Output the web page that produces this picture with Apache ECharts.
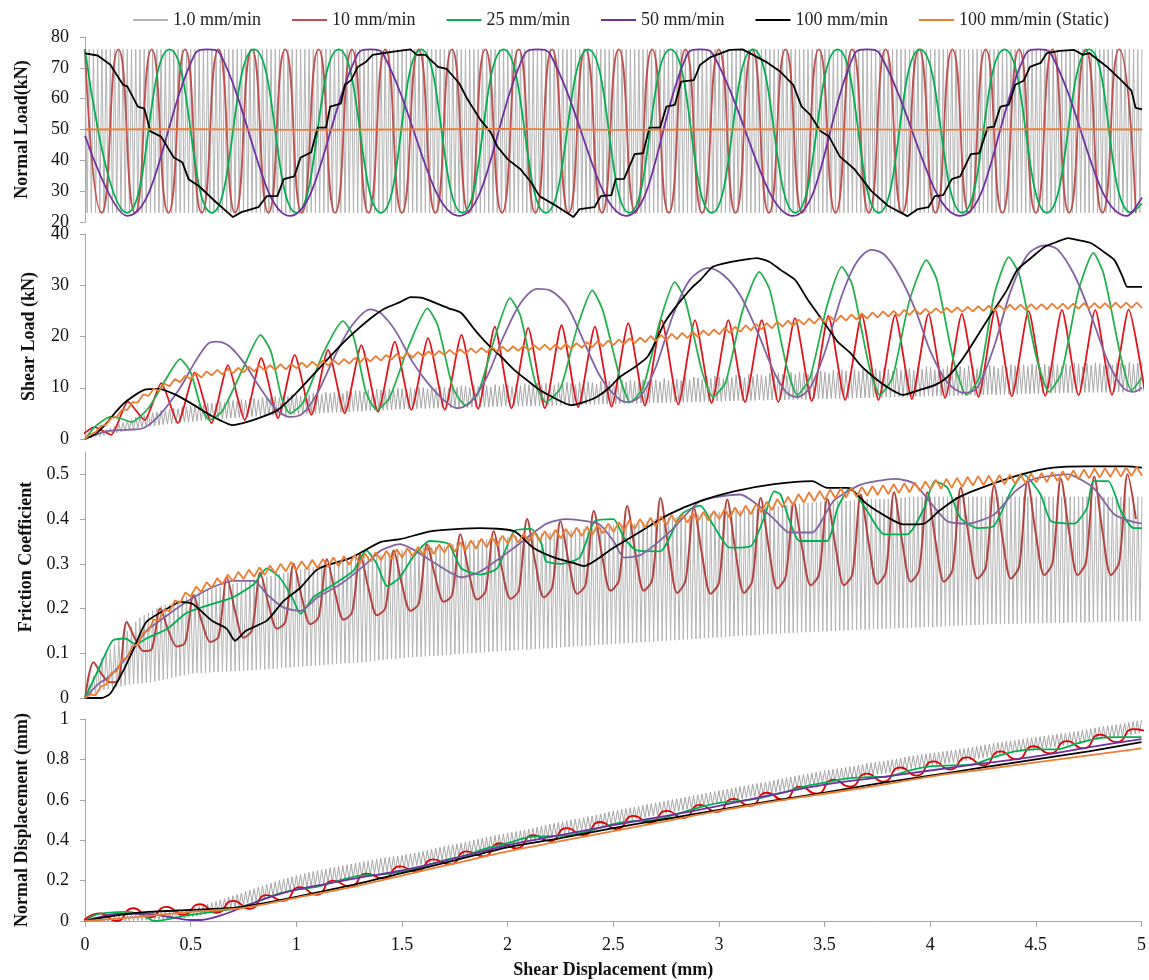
<!DOCTYPE html>
<html><head><meta charset="utf-8">
<script src="https://cdn.jsdelivr.net/npm/echarts/dist/echarts.min.js"></script>
<style>html,body{margin:0;padding:0;background:#fff}#chart{width:1149px;height:980px}</style>
</head><body><div id="chart"></div>
<script>
// ---------- names / axes ----------
const NAMES = ['1.0 mm/min','10 mm/min','25 mm/min','50 mm/min','100 mm/min','100 mm/min (Static)'];
const X_NAME = 'Shear Displacement (mm)';
const Y_NAMES = ['Normal Load(kN)','Shear Load (kN)','Friction Coefficient','Normal Displacement (mm)'];
const Y_RANGES = [[20,80,10],[0,40,10],[0,0.55,0.1],[0,1,0.2]];
const X_RANGE = [0,5,0.5];

// sampling grids (mm) for regularly sampled series
const GRAY_X0 = 0, GRAY_STEP = 0.01;        // 1.0 mm/min: peak/trough every 0.01 mm
const RED_HALF = 0.0789;                     // 10 mm/min: half load cycle
const RED1_X0 = 0, RED2_X0 = -0.0339, RED4_X0 = -0.0089;
const RED3_X0 = 0.0006, RED3_STEP = 0.03945; // quarter cycle
const ORANGE_X0 = 0, ORANGE_STEP = 0.025;

// ---------- Panel 1: Normal Load (kN) ----------
const grayNL = [
76,23,76,23,76,23,76,23,76,23,76,23,76,23,76,23,76,23,76,23,
76,23,76,23,76,23,76,23,76,23,76,23,76,23,76,23,76,23,76,23,
76,23,76,23,76,23,76,23,76,23,76,23,76,23,76,23,76,23,76,23,
76,23,76,23,76,23,76,23,76,23,76,23,76,23,76,23,76,23,76,23,
76,23,76,23,76,23,76,23,76,23,76,23,76,23,76,23,76,23,76,23,
76,23,76,23,76,23,76,23,76,23,76,23,76,23,76,23,76,23,76,23,
76,23,76,23,76,23,76,23,76,23,76,23,76,23,76,23,76,23,76,23,
76,23,76,23,76,23,76,23,76,23,76,23,76,23,76,23,76,23,76,23,
76,23,76,23,76,23,76,23,76,23,76,23,76,23,76,23,76,23,76,23,
76,23,76,23,76,23,76,23,76,23,76,23,76,23,76,23,76,23,76,23,
76,23,76,23,76,23,76,23,76,23,76,23,76,23,76,23,76,23,76,23,
76,23,76,23,76,23,76,23,76,23,76,23,76,23,76,23,76,23,76,23,
76,23,76,23,76,23,76,23,76,23,76,23,76,23,76,23,76,23,76,23,
76,23,76,23,76,23,76,23,76,23,76,23,76,23,76,23,76,23,76,23,
76,23,76,23,76,23,76,23,76,23,76,23,76,23,76,23,76,23,76,23,
76,23,76,23,76,23,76,23,76,23,76,23,76,23,76,23,76,23,76,23,
76,23,76,23,76,23,76,23,76,23,76,23,76,23,76,23,76,23,76,23,
76,23,76,23,76,23,76,23,76,23,76,23,76,23,76,23,76,23,76,23,
76,23,76,23,76,23,76,23,76,23,76,23,76,23,76,23,76,23,76,23,
76,23,76,23,76,23,76,23,76,23,76,23,76,23,76,23,76,23,76,23,
76,23,76,23,76,23,76,23,76,23,76,23,76,23,76,23,76,23,76,23,
76,23,76,23,76,23,76,23,76,23,76,23,76,23,76,23,76,23,76,23,
76,23,76,23,76,23,76,23,76,23,76,23,76,23,76,23,76,23,76,23,
76,23,76,23,76,23,76,23,76,23,76,23,76,23,76,23,76,23,76,23,
76,23,76,23,76,23,76,23,76,23,76,23,76,23,76,23,76,23,76,23,
76];
const redNL = [
76,23,76,23,76,23,76,23,76,23,76,23,76,23,76,23,
76,23,76,23,76,23,76,23,76,23,76,23,76,23,76,23,
76,23,76,23,76,23,76,23,76,23,76,23,76,23,76,23,
76,23,76,23,76,23,76,23,76,23,76,23,76,23,76,23];
const greenNL = [[0,76],[0.2,23],[0.4,76],[0.6,23],[0.8,76],[1.0,23],[1.2,76],[1.4,23],[1.59,76],[1.785,23],[1.98,76],[2.18,23],[2.38,76],[2.575,23],[2.77,76],[2.965,23],[3.16,76],[3.36,23],[3.56,76],[3.755,23],[3.95,76],[4.15,23],[4.35,76],[4.55,23],[4.75,76],[4.95,23],[5.0,26]];
const purpleNL = [[0,48],[0.2,22],[0.52,74.5],[0.58,76],[0.64,74.5],[0.97,22],[1.29,74.5],[1.35,76],[1.41,74.5],[1.77,22],[2.08,74.5],[2.14,76],[2.2,74.5],[2.56,22],[2.85,74.5],[2.91,76],[2.97,74.5],[3.35,22],[3.64,74.5],[3.7,76],[3.76,74.5],[4.14,22],[4.45,74.5],[4.51,76],[4.57,74.5],[4.93,22],[5.0,28]];
const blackNL = [[0,74.7],[0.06,74],[0.12,71],[0.14,68.8],[0.18,64.5],[0.2,64],[0.25,57.4],[0.28,56.8],[0.31,49.4],[0.36,47.7],[0.42,40.9],[0.46,39.4],[0.49,33.9],[0.54,31.6],[0.62,26.4],[0.7,21.6],[0.74,23.2],[0.82,24.8],[0.86,28.4],[0.91,28.4],[0.94,33.9],[0.99,34.8],[1.02,40.9],[1.07,42.6],[1.1,50.6],[1.14,50.6],[1.16,57.4],[1.21,58.4],[1.23,64.5],[1.26,66.1],[1.29,70.3],[1.33,72],[1.36,74.2],[1.45,75.2],[1.54,76],[1.57,74.2],[1.61,74.2],[1.67,70.3],[1.71,69.7],[1.77,65],[1.81,59.7],[1.87,53.2],[1.92,49],[1.95,44.5],[2.0,40.3],[2.06,37.1],[2.11,32.9],[2.15,28.4],[2.23,25.2],[2.31,21.6],[2.34,24.2],[2.41,24.8],[2.44,28.4],[2.49,28.7],[2.51,33.9],[2.55,34],[2.6,42],[2.64,42.3],[2.67,50.6],[2.72,50.6],[2.75,57.4],[2.79,58],[2.82,65.5],[2.88,66],[2.91,71],[2.96,73.5],[3.05,75.8],[3.11,76],[3.16,74.2],[3.23,71.6],[3.29,68.7],[3.35,64.5],[3.39,57.4],[3.43,54.8],[3.48,49.4],[3.52,47.7],[3.57,41.3],[3.64,37.1],[3.72,30],[3.8,25.2],[3.89,21.9],[3.94,24.2],[3.99,24.8],[4.02,28.4],[4.06,28.7],[4.1,33.9],[4.14,34.8],[4.19,42],[4.23,42.3],[4.27,50.6],[4.3,50.9],[4.33,57.4],[4.37,58],[4.4,64.5],[4.44,65.8],[4.47,70.3],[4.52,71.6],[4.55,74.8],[4.61,75.5],[4.68,75.8],[4.72,74.2],[4.75,74.8],[4.84,70],[4.9,66.1],[4.95,62.6],[4.97,57],[5.0,56.5]];
const orangeNL = [[0,50],[0.5,50.1],[1,49.9],[1.5,50],[2,50.2],[2.5,49.9],[3,50],[3.5,50.1],[4,49.9],[4.5,50.1],[5,50]];

// ---------- Panel 2: Shear Load (kN) ----------
const graySL = [
0,0.1,0.5,0.2,0.9,0.4,1.2,0.5,1.5,0.7,
1.8,0.8,2.1,1.0,2.5,1.2,2.9,1.4,3.2,1.6,
3.6,1.8,3.8,2.0,4.2,2.1,4.4,2.3,4.6,2.4,
4.8,2.5,5.1,2.6,5.3,2.7,5.6,2.8,5.5,2.9,
5.8,3.0,6.0,3.1,5.9,3.2,6.3,3.3,6.2,3.3,
6.5,3.4,6.4,3.5,6.8,3.6,6.6,3.7,7.0,3.7,
7.0,3.8,6.9,3.9,7.3,4.0,7.1,4.0,7.5,4.1,
7.5,4.1,7.3,4.2,7.7,4.3,7.6,4.3,7.9,4.4,
7.9,4.4,7.7,4.5,8.1,4.5,8.0,4.6,8.3,4.6,
8.3,4.6,8.1,4.7,8.5,4.7,8.3,4.8,8.7,4.8,
8.6,4.8,8.4,4.9,8.8,4.9,8.6,5.0,9.0,5.0,
8.9,5.0,8.7,5.1,9.1,5.1,8.9,5.2,9.2,5.2,
9.1,5.2,8.9,5.3,9.4,5.3,9.2,5.4,9.5,5.4,
9.4,5.4,9.2,5.5,9.6,5.5,9.4,5.6,9.7,5.6,
9.6,5.6,9.4,5.7,9.8,5.7,9.6,5.8,9.9,5.8,
9.8,5.8,9.6,5.9,10.0,5.9,9.8,5.9,10.1,6.0,
10.0,5.9,9.8,6.0,10.2,6.0,9.9,6.0,10.3,6.1,
10.1,6.0,9.9,6.1,10.3,6.1,10.1,6.1,10.4,6.2,
10.3,6.1,10.0,6.2,10.5,6.2,10.2,6.2,10.5,6.3,
10.4,6.2,10.1,6.3,10.6,6.3,10.3,6.3,10.7,6.4,
10.5,6.3,10.2,6.4,10.7,6.4,10.4,6.4,10.8,6.5,
10.6,6.4,10.3,6.5,10.9,6.5,10.5,6.5,10.9,6.6,
10.8,6.5,10.5,6.6,11.0,6.6,10.7,6.6,11.1,6.7,
10.9,6.6,10.6,6.7,11.1,6.7,10.8,6.7,11.2,6.8,
11.0,6.7,10.7,6.8,11.3,6.8,10.9,6.8,11.3,6.9,
11.2,6.8,10.9,6.9,11.4,6.9,11.1,6.9,11.5,7.0,
11.3,6.9,11.0,7.0,11.6,7.0,11.2,7.0,11.7,7.1,
11.5,7.0,11.2,7.1,11.8,7.1,11.4,7.1,11.9,7.2,
11.7,7.1,11.4,7.2,12.0,7.2,11.6,7.2,12.1,7.3,
11.9,7.2,11.6,7.3,12.2,7.3,11.8,7.3,12.3,7.4,
12.1,7.3,11.8,7.4,12.4,7.4,12.0,7.4,12.5,7.5,
12.3,7.4,12.0,7.5,12.6,7.5,12.2,7.5,12.7,7.6,
12.5,7.5,12.2,7.6,12.8,7.6,12.4,7.6,12.9,7.7,
12.7,7.6,12.4,7.7,13.0,7.7,12.6,7.7,13.1,7.8,
12.9,7.7,12.6,7.8,13.2,7.8,12.8,7.8,13.3,7.9,
13.1,7.8,12.8,7.9,13.4,7.9,13.0,7.9,13.5,8.0,
13.3,7.9,13.0,8.0,13.6,8.0,13.2,8.0,13.7,8.1,
13.5,8.0,13.1,8.1,13.7,8.1,13.3,8.1,13.8,8.2,
13.6,8.1,13.2,8.2,13.9,8.2,13.4,8.2,14.0,8.3,
13.8,8.2,13.4,8.3,14.0,8.3,13.6,8.3,14.1,8.4,
13.9,8.3,13.5,8.4,14.1,8.4,13.7,8.4,14.2,8.5,
14.0,8.4,13.6,8.5,14.2,8.5,13.8,8.5,14.3,8.6,
14.1,8.5,13.7,8.6,14.3,8.6,13.9,8.6,14.4,8.7,
14.2,8.6,13.8,8.7,14.4,8.7,14.0,8.7,14.5,8.8,
14.3,8.7,13.9,8.8,14.5,8.8,14.1,8.8,14.6,8.9,
14.4,8.8,14.0,8.9,14.6,8.9,14.2,8.9,14.7,9.0,
14.5,8.9,14.1,9.0,14.7,9.0,14.3,9.0,14.8,9.1,
14.6,9.0,14.2,9.1,14.8,9.1,14.4,9.1,14.9,9.1,
14.7,9.1,14.3,9.1,14.9,9.2,14.5,9.2,14.9,9.2,
14.8,9.1,14.4,9.2,14.9,9.2,14.6,9.2,14.8,9.2,
14.8];
const redSL = [0,2.3,0.8,7.3,3.7,10.9,3.1,13.0,3.1,14.4,3.7,15.8,4.1,16.4,4.7,17.4,5.0,18.3,5.3,19.0,5.7,19.7,5.7,20.3,5.9,21.9,6.0,21.7,6.0,22.2,6.2,21.9,6.3,22.6,6.5,23.2,6.7,23.2,7.0,23.2,7.2,23.2,7.2,23.6,7.4,24.0,7.6,24.2,7.6,24.2,7.8,24.4,8.0,24.4,8.2,25.2,8.3,25.0,8.4,25.2,8.5,25.2,8.6,25.3,8.6];
const greenSL = [[0,0],[0.05,2.5],[0.12,4.3],[0.17,4.0],[0.22,3.3],[0.3,6],[0.38,11.5],[0.45,15.6],[0.5,13],[0.55,6],[0.59,3.7],[0.65,5.5],[0.75,14],[0.83,20.3],[0.88,17],[0.93,8],[0.97,5.0],[1.03,7],[1.13,17],[1.22,23.0],[1.27,20],[1.33,9],[1.38,5.7],[1.44,8],[1.53,18],[1.62,25.5],[1.67,22],[1.74,10],[1.8,6.6],[1.86,9],[1.94,20],[2.01,27.5],[2.06,24],[2.13,11],[2.18,7.2],[2.25,10],[2.33,22],[2.4,29.0],[2.45,25],[2.53,12],[2.58,7.2],[2.64,10],[2.72,23],[2.79,30.6],[2.84,27],[2.92,13],[2.97,8.2],[3.03,11],[3.11,25],[3.19,32.6],[3.24,29],[3.32,14],[3.37,8.6],[3.43,12],[3.51,26],[3.58,33.6],[3.63,30],[3.71,14],[3.76,8.6],[3.82,12],[3.9,27],[3.98,34.9],[4.03,31],[4.11,15],[4.17,8.6],[4.23,12],[4.3,28],[4.37,35.5],[4.42,32],[4.5,16],[4.56,9.2],[4.62,13],[4.7,29],[4.77,36.3],[4.82,32],[4.9,16],[4.95,9.5],[5.0,12]];
const purpleSL = [[0,0],[0.1,1.5],[0.2,1.8],[0.28,2.2],[0.36,5],[0.45,10],[0.52,15],[0.58,18.5],[0.62,19],[0.68,18.2],[0.75,15],[0.82,10.5],[0.9,6],[0.97,4.3],[1.03,5],[1.1,9],[1.18,16],[1.26,22],[1.35,25.3],[1.4,24.5],[1.47,21],[1.55,15],[1.62,11],[1.7,7.5],[1.76,6],[1.82,7],[1.9,12],[1.98,20],[2.06,26.5],[2.14,29.3],[2.2,29],[2.28,26],[2.36,19],[2.44,12],[2.52,8],[2.57,7.2],[2.63,8.5],[2.7,14],[2.78,24],[2.86,31],[2.95,33.4],[3.02,32],[3.1,28],[3.18,21],[3.26,13],[3.32,9],[3.37,8.2],[3.43,10],[3.5,17],[3.58,28],[3.65,34.5],[3.72,36.9],[3.78,36],[3.85,32],[3.93,25],[4.0,17],[4.08,11],[4.16,9.0],[4.22,10],[4.3,18],[4.38,29],[4.46,36],[4.54,37.8],[4.6,37],[4.68,32],[4.76,24],[4.84,15],[4.91,10],[4.96,9.2],[5.0,10]];
const blackSL = [[0,0],[0.05,1],[0.1,3],[0.15,5.5],[0.2,7.5],[0.28,9.6],[0.35,9.8],[0.42,8.8],[0.5,7],[0.6,4.5],[0.7,2.7],[0.78,3.5],[0.85,4.5],[0.91,5.6],[1.0,9],[1.09,13],[1.18,17],[1.26,20.3],[1.35,23.5],[1.42,25.5],[1.49,26.7],[1.54,27.7],[1.6,27.5],[1.66,26.5],[1.72,25.5],[1.78,24.6],[1.84,21.5],[1.9,18.7],[1.97,16],[2.03,13.5],[2.09,11.5],[2.15,9.6],[2.22,8],[2.3,6.6],[2.36,7.2],[2.42,8.2],[2.48,10],[2.53,12.1],[2.6,14],[2.66,16.0],[2.7,19],[2.74,22.6],[2.78,25],[2.82,27.1],[2.87,29.5],[2.91,31],[2.97,33.6],[3.05,34.5],[3.12,35],[3.18,35.3],[3.24,34.5],[3.29,33],[3.36,31],[3.42,27.1],[3.51,21.9],[3.56,19],[3.62,16.8],[3.67,14.3],[3.73,12.1],[3.8,10],[3.87,8.6],[3.95,9.6],[4.02,10.5],[4.08,12.1],[4.14,15],[4.2,18.7],[4.25,22],[4.3,25.2],[4.36,29],[4.41,33],[4.48,35.5],[4.54,37.5],[4.6,38.5],[4.65,39.2],[4.7,38.8],[4.76,38.2],[4.82,36.5],[4.87,34.9],[4.91,31.5],[4.93,29.7],[5.0,29.7]];
const orangeSL = [
0,0.9,1.3,2.5,2.8,4.1,4.3,5.7,5.7,7.2,7.1,8.7,8.4,9.8,9.4,10.8,10.3,11.7,11.1,12.4,
11.7,12.9,12.0,13.2,12.4,13.5,12.6,13.7,12.8,13.9,13.0,14.1,13.2,14.3,13.4,14.4,13.5,14.6,13.6,14.7,
13.8,14.9,14.0,15.1,14.2,15.3,14.3,15.4,14.5,15.6,14.7,15.8,14.9,16.0,15.1,16.2,15.3,16.4,15.5,16.6,
15.7,16.8,15.9,17.0,16.1,17.1,16.2,17.2,16.4,17.4,16.5,17.5,16.6,17.7,16.8,17.8,16.9,17.9,17.0,18.0,
17.1,18.1,17.2,18.2,17.3,18.3,17.4,18.4,17.4,18.4,17.5,18.6,17.6,18.7,17.8,18.9,17.9,19.1,18.1,19.2,
18.3,19.4,18.5,19.6,18.7,19.8,18.9,20.1,19.1,20.3,19.3,20.5,19.5,20.7,19.7,20.9,19.9,21.2,20.2,21.4,
20.4,21.7,20.7,21.9,20.9,22.2,21.2,22.4,21.4,22.6,21.6,22.9,21.9,23.1,22.1,23.3,22.3,23.5,22.5,23.7,
22.7,23.9,22.9,24.1,23.1,24.3,23.3,24.5,23.5,24.7,23.7,24.9,23.9,25.0,24.0,25.2,24.2,25.3,24.3,25.4,
24.5,25.5,24.6,25.6,24.7,25.7,24.8,25.8,24.9,25.9,25.0,26.0,25.0,26.1,25.1,26.2,25.2,26.2,25.2,26.3,
25.3,26.3,25.3,26.4,25.4,26.4,25.4,26.4,25.4,26.5,25.5,26.5,25.5,26.5,25.5,26.6,25.6,26.6,25.6,26.6,
25.6];

// ---------- Panel 3: Friction Coefficient ----------
const grayFC = [
0,0,.03,.005,.05,.01,.07,.015,.09,.018,
.10,.02,.11,.022,.12,.024,.13,.026,.14,.028,
.15,.03,.16,.031,.17,.032,.18,.033,.185,.034,
.19,.035,.195,.037,.2,.039,.205,.041,.208,.043,
.21,.045,.215,.047,.22,.049,.224,.051,.227,.053,
.23,.055,.233,.056,.236,.056,.24,.057,.243,.057,
.245,.058,.247,.058,.249,.059,.251,.059,.253,.06,
.255,.06,.257,.061,.259,.061,.261,.062,.263,.062,
.265,.063,.267,.064,.269,.064,.271,.065,.273,.065,
.275,.066,.277,.067,.279,.068,.281,.068,.283,.069,
.285,.07,.287,.071,.289,.071,.291,.072,.293,.072,
.295,.073,.297,.074,.299,.075,.301,.075,.303,.076,
.305,.077,.307,.078,.309,.078,.311,.079,.313,.079,
.315,.08,.316,.081,.317,.082,.318,.083,.319,.084,
.32,.085,.322,.086,.324,.087,.326,.088,.328,.089,
.33,.09,.331,.091,.332,.091,.333,.092,.334,.092,
.335,.093,.336,.094,.337,.094,.338,.095,.339,.095,
.34,.096,.342,.097,.344,.098,.346,.098,.348,.099,
.35,.10,.351,.101,.352,.101,.353,.102,.354,.102,
.355,.103,.356,.104,.357,.104,.358,.105,.359,.105,
.36,.106,.361,.107,.362,.107,.363,.108,.364,.108,
.365,.109,.366,.11,.367,.11,.368,.111,.369,.111,
.37,.112,.371,.113,.372,.113,.373,.114,.374,.114,
.375,.115,.376,.116,.377,.116,.378,.117,.379,.117,
.38,.118,.381,.119,.382,.119,.383,.12,.384,.12,
.385,.121,.386,.122,.387,.122,.388,.123,.389,.123,
.39,.124,.392,.125,.394,.125,.396,.126,.398,.126,
.40,.127,.401,.128,.402,.128,.403,.129,.404,.129,
.405,.13,.406,.131,.407,.131,.408,.132,.409,.132,
.41,.133,.411,.134,.412,.134,.413,.135,.414,.135,
.415,.136,.416,.137,.417,.137,.418,.138,.419,.138,
.42,.139,.421,.14,.422,.14,.423,.141,.424,.141,
.425,.142,.426,.143,.427,.143,.428,.144,.429,.144,
.43,.145,.431,.145,.432,.146,.433,.146,.434,.147,
.435,.147,.436,.147,.437,.148,.438,.148,.439,.149,
.44,.149,.44,.15,.44,.15,.44,.151,.44,.151,
.44,.151,.441,.152,.442,.152,.443,.153,.444,.153,
.445,.153,.445,.154,.445,.154,.445,.155,.445,.155,
.445,.155,.446,.156,.447,.156,.448,.157,.449,.157,
.45,.157,.45,.158,.45,.158,.45,.159,.45,.159,
.45,.159,.45,.16,.45,.16,.45,.161,.45,.161,
.45,.161,.45,.162,.45,.162,.45,.163,.45,.163,
.45,.163,.45,.164,.45,.164,.45,.165,.45,.165,
.45,.165,.45,.165,.45,.166,.45,.166,.45,.166,
.45,.166,.45,.166,.45,.167,.45,.167,.45,.167,
.45,.167,.45,.167,.45,.168,.45,.168,.45,.168,
.45,.168,.45,.168,.45,.169,.45,.169,.45,.169,
.45,.169,.45,.169,.45,.17,.45,.17,.45,.17,
.45,.17,.45,.17,.45,.171,.45,.171,.45,.171,
.45,.171,.45,.171,.45,.172,.45,.172,.45,.172,
.45];
const redFC = [0,
.08,.053,.035,.04, .17,.132,.105,.11, .20,.15,.115,.124, .23,.17,.125,.137,
.27,.193,.135,.151, .28,.209,.155,.17, .30,.223,.165,.181, .31,.233,.175,.191,
.32,.243,.185,.201, .33,.253,.195,.211, .344,.27,.215,.23, .366,.283,.22,.238,
.373,.287,.222,.24, .40,.301,.225,.247, .395,.303,.233,.253, .418,.317,.24,.262,
.429,.322,.24,.264, .447,.328,.235,.263, .425,.317,.233,.258, .444,.326,.235,.262,
.447,.333,.245,.271, .437,.333,.252,.276, .445,.336,.252,.277, .455,.342,.255,.281,
.46,.347,.26,.286, .46,.347,.26,.286, .47,.356,.267,.293, .475,.358,.267,.294,
.485,.367,.275,.302, .49,.369,.275,.303, .495,.371,.275,.304, .50,.40];
const greenFC = [[0,0],[0.06,0.06],[0.13,0.128],[0.19,0.133],[0.24,0.12],[0.29,0.133],[0.39,0.155],[0.48,0.19],[0.6,0.21],[0.7,0.225],[0.8,0.255],[0.86,0.29],[0.92,0.27],[0.98,0.225],[1.02,0.188],[1.08,0.225],[1.18,0.255],[1.27,0.285],[1.33,0.33],[1.38,0.3],[1.43,0.25],[1.49,0.27],[1.55,0.314],[1.63,0.351],[1.72,0.344],[1.78,0.29],[1.87,0.276],[1.95,0.29],[2.03,0.373],[2.11,0.378],[2.16,0.344],[2.18,0.306],[2.25,0.3],[2.34,0.314],[2.41,0.395],[2.5,0.4],[2.55,0.358],[2.61,0.33],[2.72,0.328],[2.82,0.41],[2.91,0.43],[2.97,0.388],[3.05,0.336],[3.15,0.34],[3.21,0.4],[3.26,0.462],[3.29,0.455],[3.33,0.4],[3.38,0.351],[3.51,0.351],[3.56,0.425],[3.62,0.47],[3.7,0.418],[3.78,0.366],[3.89,0.366],[3.97,0.425],[4.02,0.485],[4.08,0.47],[4.14,0.403],[4.22,0.38],[4.3,0.385],[4.38,0.462],[4.44,0.5],[4.52,0.455],[4.57,0.395],[4.68,0.39],[4.74,0.425],[4.77,0.485],[4.84,0.485],[4.9,0.418],[4.96,0.38],[5.0,0.38]];
const purpleFC = [[0,0],[0.06,0.03],[0.12,0.05],[0.23,0.11],[0.29,0.15],[0.39,0.185],[0.48,0.215],[0.6,0.247],[0.7,0.262],[0.8,0.262],[0.86,0.232],[0.94,0.202],[1.02,0.195],[1.1,0.225],[1.21,0.255],[1.33,0.3],[1.4,0.33],[1.49,0.344],[1.56,0.33],[1.66,0.3],[1.78,0.27],[1.87,0.283],[2.03,0.336],[2.18,0.389],[2.27,0.4],[2.43,0.389],[2.5,0.351],[2.55,0.314],[2.63,0.32],[2.77,0.373],[2.91,0.44],[3.1,0.455],[3.2,0.425],[3.26,0.4],[3.33,0.37],[3.44,0.37],[3.54,0.44],[3.67,0.477],[3.83,0.49],[3.92,0.48],[4.02,0.425],[4.08,0.395],[4.18,0.39],[4.3,0.41],[4.4,0.462],[4.49,0.49],[4.65,0.5],[4.77,0.47],[4.87,0.41],[4.95,0.395],[5.0,0.39]];
const blackFC = [[0,0],[0.08,0],[0.12,0.01],[0.18,0.06],[0.23,0.11],[0.29,0.17],[0.39,0.2],[0.45,0.215],[0.51,0.21],[0.6,0.173],[0.67,0.155],[0.71,0.128],[0.76,0.15],[0.86,0.173],[0.94,0.217],[1.02,0.247],[1.1,0.288],[1.26,0.314],[1.4,0.349],[1.49,0.355],[1.64,0.373],[1.87,0.38],[2.03,0.373],[2.12,0.336],[2.22,0.314],[2.31,0.302],[2.36,0.295],[2.5,0.336],[2.63,0.373],[2.76,0.41],[2.91,0.44],[3.07,0.462],[3.26,0.478],[3.44,0.485],[3.51,0.47],[3.61,0.47],[3.7,0.433],[3.8,0.403],[3.87,0.388],[3.97,0.39],[4.04,0.418],[4.13,0.448],[4.24,0.47],[4.43,0.5],[4.58,0.515],[4.74,0.518],[4.93,0.518],[5.0,0.515]];
const orangeFC = [
0,.008,.006,.026,.03,.056,.06,.086,.09,.116,.12,.146,.15,.175,.174,.198,.194,.218,.213,.236,
.227,.249,.237,.259,.246,.268,.254,.276,.261,.282,.266,.287,.271,.292,.275,.296,.279,.30,.283,.304,
.285,.306,.288,.309,.29,.311,.293,.314,.295,.317,.298,.32,.301,.323,.305,.326,.308,.329,.311,.332,
.314,.335,.317,.338,.32,.341,.322,.343,.325,.346,.327,.348,.33,.352,.334,.356,.337,.36,.341,.363,
.345,.366,.347,.368,.35,.371,.352,.373,.355,.376,.357,.378,.36,.381,.362,.383,.365,.387,.368,.39,
.371,.393,.375,.397,.378,.40,.381,.403,.384,.406,.387,.409,.39,.411,.392,.413,.395,.416,.397,.418,
.40,.422,.403,.426,.407,.43,.411,.434,.415,.439,.42,.445,.426,.45,.431,.456,.437,.46,.44,.463,
.443,.466,.446,.469,.448,.471,.45,.472,.452,.474,.454,.476,.456,.478,.458,.48,.46,.482,.462,.484,
.466,.488,.468,.49,.47,.492,.472,.494,.475,.496,.476,.497,.477,.498,.478,.499,.479,.50,.48,.502,
.482,.503,.483,.505,.485,.507,.487,.509,.489,.511,.491,.513,.493,.514,.494,.515,.495,.516,.496,.517,
.497];

// ---------- Panel 4: Normal Displacement (mm) ----------
const grayND = [
.01,0,.012,0,.014,0,.016,0,.018,0,
.02,0,.022,0,.024,0,.026,0,.028,0,
.03,0,.032,.001,.034,.002,.036,.003,.038,.004,
.04,.005,.041,.006,.042,.007,.043,.008,.044,.009,
.045,.01,.048,.012,.051,.014,.054,.016,.057,.018,
.06,.02,.066,.024,.072,.028,.078,.032,.084,.036,
.09,.04,.097,.046,.104,.052,.111,.058,.118,.064,
.125,.07,.132,.076,.139,.082,.146,.088,.153,.094,
.16,.10,.167,.106,.174,.112,.181,.118,.188,.124,
.195,.13,.201,.136,.207,.142,.213,.148,.219,.154,
.225,.16,.23,.164,.235,.168,.24,.172,.245,.176,
.25,.18,.254,.184,.258,.188,.262,.192,.266,.196,
.27,.20,.274,.204,.278,.208,.282,.212,.286,.216,
.29,.22,.294,.224,.298,.228,.302,.232,.306,.236,
.31,.24,.313,.244,.316,.248,.319,.252,.322,.256,
.325,.26,.329,.265,.333,.27,.337,.275,.341,.28,
.345,.285,.35,.289,.355,.293,.36,.297,.365,.301,
.37,.305,.374,.31,.378,.315,.382,.32,.386,.325,
.39,.33,.395,.334,.40,.338,.405,.342,.41,.346,
.415,.35,.419,.354,.423,.358,.427,.362,.431,.366,
.435,.37,.439,.375,.443,.38,.447,.385,.451,.39,
.455,.395,.46,.399,.465,.403,.47,.407,.475,.411,
.48,.415,.484,.42,.488,.425,.492,.43,.496,.435,
.50,.44,.504,.444,.508,.448,.512,.452,.516,.456,
.52,.46,.525,.465,.53,.47,.535,.475,.54,.48,
.545,.485,.549,.489,.553,.493,.557,.497,.561,.501,
.565,.505,.569,.509,.573,.513,.577,.517,.581,.521,
.585,.525,.589,.529,.593,.533,.597,.537,.601,.541,
.605,.545,.609,.549,.613,.553,.617,.557,.621,.561,
.625,.565,.629,.569,.633,.573,.637,.577,.641,.581,
.645,.585,.649,.589,.653,.593,.657,.597,.661,.601,
.665,.605,.669,.609,.673,.613,.677,.617,.681,.621,
.685,.625,.689,.629,.693,.633,.697,.637,.701,.641,
.705,.645,.709,.649,.713,.653,.717,.657,.721,.661,
.725,.665,.729,.669,.733,.673,.737,.677,.741,.681,
.745,.685,.748,.688,.751,.691,.754,.694,.757,.697,
.76,.70,.764,.704,.768,.708,.772,.712,.776,.716,
.78,.72,.783,.723,.786,.726,.789,.729,.792,.732,
.795,.735,.799,.739,.803,.743,.807,.747,.811,.751,
.815,.755,.818,.758,.821,.761,.824,.764,.827,.767,
.83,.77,.833,.773,.836,.776,.839,.779,.842,.782,
.845,.785,.848,.788,.851,.791,.854,.794,.857,.797,
.86,.80,.864,.804,.868,.808,.872,.812,.876,.816,
.88,.82,.883,.823,.886,.826,.889,.829,.892,.832,
.895,.835,.898,.838,.901,.841,.904,.844,.907,.847,
.91,.85,.913,.853,.916,.856,.919,.859,.922,.862,
.925,.865,.928,.868,.931,.871,.934,.874,.937,.877,
.94,.88,.944,.884,.948,.888,.952,.892,.956,.896,
.96,.90,.963,.903,.966,.906,.969,.909,.972,.912,
.975,.915,.979,.919,.983,.923,.987,.927,.991,.931,
.995];
const redND = [0,.038,0,.063,.018,.07,.03,.083,.04,.10,.06,.128,.10,.168,.13,.20,.17,.235,.21,.27,.245,.305,.28,.345,.32,.385,.36,.425,.395,.46,.425,.49,.455,.52,.485,.545,.51,.575,.54,.605,.57,.635,.60,.665,.63,.70,.665,.73,.69,.76,.72,.79,.75,.81,.77,.84,.80,.865,.83,.89,.855,.923,.885,.95,.93];
const greenND = [[0,0],[0.05,.03],[0.1,.04],[0.2,.045],[0.27,.03],[0.33,0.0],[0.4,.01],[0.5,.03],[0.6,.045],[0.7,.06],[0.8,.09],[0.9,.13],[1.0,.155],[1.1,.17],[1.2,.2],[1.3,.225],[1.4,.23],[1.5,.245],[1.6,.27],[1.7,.3],[1.8,.325],[1.9,.36],[2.0,.385],[2.1,.415],[2.2,.42],[2.3,.425],[2.4,.45],[2.5,.48],[2.6,.495],[2.7,.5],[2.8,.53],[2.9,.56],[3.0,.585],[3.1,.595],[3.2,.61],[3.3,.635],[3.4,.665],[3.5,.685],[3.6,.705],[3.7,.712],[3.8,.715],[3.9,.745],[4.0,.765],[4.1,.77],[4.2,.775],[4.3,.81],[4.4,.84],[4.5,.85],[4.6,.85],[4.7,.88],[4.8,.905],[4.9,.91],[5.0,.91]];
const purpleND = [[0,0],[0.05,.015],[0.15,.035],[0.3,.035],[0.4,.02],[0.5,.005],[0.55,.005],[0.65,.03],[0.75,.07],[0.85,.11],[1.0,.155],[1.15,.185],[1.3,.215],[1.5,.25],[1.75,.31],[2.0,.375],[2.25,.425],[2.5,.475],[2.75,.52],[3.0,.57],[3.25,.625],[3.5,.675],[3.75,.71],[4.0,.745],[4.25,.78],[4.5,.815],[4.75,.86],[5.0,.90]];
const blackND = [[0,0],[0.1,.02],[0.2,.035],[0.3,.045],[0.5,.055],[0.7,.065],[0.8,.08],[1.0,.12],[1.25,.175],[1.5,.237],[1.75,.30],[2.0,.365],[2.25,.41],[2.5,.46],[2.75,.505],[3.0,.55],[3.25,.595],[3.5,.635],[3.75,.68],[4.0,.72],[4.25,.76],[4.5,.80],[4.75,.84],[5.0,.885]];
const orangeND = [[0,0],[0.25,.02],[0.5,.045],[0.75,.065],[1.0,.115],[1.25,.165],[1.5,.225],[1.75,.285],[2.0,.345],[2.25,.395],[2.5,.445],[2.75,.495],[3.0,.545],[3.25,.59],[3.5,.63],[3.75,.67],[4.0,.715],[4.25,.75],[4.5,.785],[4.75,.82],[5.0,.855]];

// ---------- build ----------
function onGrid(x0, step, ys){ return ys.map((y,i)=>[+(x0+i*step).toFixed(5), y]); }

const FONT = "'Liberation Serif','Times New Roman',serif";
const AXIS_GRAY = '#a6a6a6';
const grids = [
  {left:85, top:37,  width:1057, height:185},
  {left:85, top:234, width:1057, height:205},
  {left:85, top:452, width:1057, height:246},
  {left:85, top:719, width:1057, height:202}
];
const nameGaps = [54, 47, 50, 54];
const namePads = [[0,0,0,0],[0,0,0,0],[0,0,0,36],[0,0,0,0]];

const xAxes = grids.map((g,i)=>({
  type:'value', gridIndex:i, min:X_RANGE[0], max:X_RANGE[1], interval:X_RANGE[2],
  show: i===3,
  axisLine:{show:true, lineStyle:{color:AXIS_GRAY, width:1}},
  axisTick:{show:true, length:6, lineStyle:{color:AXIS_GRAY}},
  axisLabel:{color:'#111', fontSize:18, fontFamily:FONT, margin:15},
  splitLine:{show:false},
  name: i===3 ? X_NAME : '', nameLocation:'middle', nameGap:40,
  nameTextStyle:{color:'#111', fontSize:18, fontWeight:'bold', fontFamily:FONT}
}));
const yAxes = grids.map((g,i)=>({
  type:'value', gridIndex:i, min:Y_RANGES[i][0], max:Y_RANGES[i][1], interval:Y_RANGES[i][2],
  axisLine:{show:true, lineStyle:{color:AXIS_GRAY, width:1}},
  axisTick:{show:true, length:5, lineStyle:{color:AXIS_GRAY}},
  axisLabel:{color:'#111', fontSize:18, fontFamily:FONT, margin:16, showMaxLabel: i!==2},
  splitLine:{show:false},
  name:Y_NAMES[i], nameLocation:'middle', nameGap:nameGaps[i],
  nameTextStyle:{color:'#111', fontSize:18, fontWeight:'bold', fontFamily:FONT, padding:namePads[i]}
}));

function line(nameIdx, gi, data, color, width, smooth, z){
  return {type:'line', name:NAMES[nameIdx], xAxisIndex:gi, yAxisIndex:gi, data:data,
    symbol:'none', showSymbol:false, smooth:smooth||false, clip:true,
    lineStyle:{color:color, width:width}, itemStyle:{color:color}, z:z,
    animation:false, silent:true, emphasis:{disabled:true}};
}
const GRAY='#b3b3b3', ORANGE='#ed7d31', BLACK='#000000', GREEN='#00b050';
const series = [
  // panel 1
  line(0,0,onGrid(GRAY_X0,GRAY_STEP,grayNL),GRAY,1,false,1),
  line(1,0,onGrid(RED1_X0,RED_HALF,redNL),'#c0504d',1.8,0.6,2),
  line(2,0,greenNL,GREEN,1.8,0.5,3),
  line(3,0,purpleNL,'#7030a0',1.8,0.4,4),
  line(4,0,blackNL,BLACK,1.8,false,5),
  line(5,0,orangeNL,ORANGE,1.8,false,6),
  // panel 2
  line(0,1,onGrid(GRAY_X0,GRAY_STEP,graySL),'#a6a6a6',1,false,1),
  line(1,1,onGrid(RED2_X0,RED_HALF,redSL),'#e0141b',1.8,0.2,2),
  line(2,1,greenSL,'#22b14c',1.8,0.2,3),
  line(3,1,purpleSL,'#8064a2',1.8,0.3,4),
  line(4,1,blackSL,BLACK,1.8,0.2,5),
  line(5,1,onGrid(ORANGE_X0,ORANGE_STEP,orangeSL),ORANGE,1.8,false,6),
  // panel 3
  line(0,2,onGrid(GRAY_X0,GRAY_STEP,grayFC),GRAY,1,false,1),
  line(1,2,onGrid(RED3_X0,RED3_STEP,redFC),'#b3433f',2,0.3,2),
  line(2,2,greenFC,GREEN,1.8,0.2,3),
  line(3,2,purpleFC,'#8064a2',1.8,0.2,4),
  line(4,2,blackFC,BLACK,1.8,0.2,5),
  line(5,2,onGrid(ORANGE_X0,ORANGE_STEP,orangeFC),ORANGE,1.8,false,6),
  // panel 4
  line(0,3,onGrid(GRAY_X0,GRAY_STEP,grayND),'#a6a6a6',1,false,1),
  line(1,3,onGrid(RED4_X0,RED_HALF,redND),'#e00000',1.8,0.6,2),
  line(2,3,greenND,GREEN,1.8,0.3,3),
  line(3,3,purpleND,'#7030a0',1.8,0.3,4),
  line(4,3,blackND,BLACK,1.8,0.3,5),
  line(5,3,orangeND,ORANGE,1.8,0.3,6)
];

const chart = echarts.init(document.getElementById('chart'), null, {renderer:'canvas'});
chart.setOption({
  backgroundColor:'#ffffff',
  animation:false,
  legend:{data:NAMES.map(n=>({name:n, icon:'rect'})), left:133, top:11, padding:0,
    itemWidth:35, itemHeight:2, itemGap:31,
    textStyle:{color:'#222', fontSize:18, fontFamily:FONT}, selectedMode:false},
  grid:grids, xAxis:xAxes, yAxis:yAxes, series:series
});
</script>
</body></html>
